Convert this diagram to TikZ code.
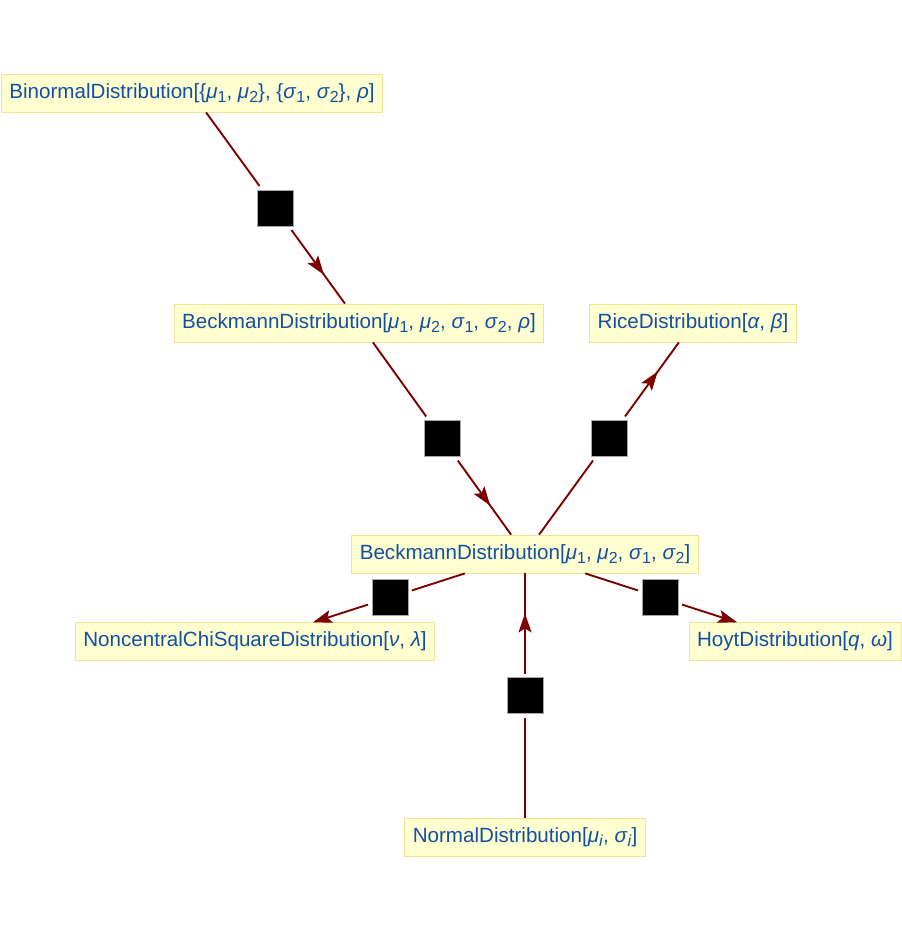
\documentclass[tikz,border=0pt]{standalone}
\usepackage{fontspec}
\setmainfont{Liberation Sans}
\usetikzlibrary{arrows.meta}
\definecolor{edgered}{RGB}{125,0,0}
\definecolor{boxfill}{RGB}{255,255,207}
\definecolor{boxline}{RGB}{238,228,150}
\definecolor{labelblue}{RGB}{18,80,168}
\newcommand\lo[1]{\raisebox{-0.45ex}{\fontsize{16}{16}\selectfont #1}}
\newcommand\gk[1]{\textit{#1}}
\tikzset{
  distbox/.style={draw=boxline, line width=0.8pt, fill=boxfill, text=labelblue,
    inner xsep=8pt, inner ysep=0pt, minimum height=38pt,
    font=\fontsize{20.6}{24}\selectfont},
  sqbox/.style={fill=black, draw=gray!70, line width=0.8pt, minimum size=36pt,
    inner sep=0pt, outer sep=4pt},
  edge/.style={draw=edgered, line width=1.9pt},
  arr/.style={draw=edgered, fill=edgered, line width=1.9pt,
    -{Stealth[length=19pt,width=13pt,inset=4pt]}}
}
\begin{document}
\begin{tikzpicture}[x=1pt,y=-1pt]
\useasboundingbox (0,0) rectangle (902,932);

\node[distbox] (bin) at (192,93) {BinormalDistribution[\{\gk{μ}\lo{1}, \gk{μ}\lo{2}\}, \{\gk{σ}\lo{1}, \gk{σ}\lo{2}\}, \gk{ρ}]};
\node[distbox] (bk5) at (359,323) {BeckmannDistribution[\gk{μ}\lo{1}, \gk{μ}\lo{2}, \gk{σ}\lo{1}, \gk{σ}\lo{2}, \gk{ρ}]};
\node[distbox] (rice) at (693,323) {RiceDistribution[\gk{α}, \gk{β}]};
\node[distbox] (bk4) at (525,554) {BeckmannDistribution[\gk{μ}\lo{1}, \gk{μ}\lo{2}, \gk{σ}\lo{1}, \gk{σ}\lo{2}]};
\node[distbox] (nchi) at (255,641) {NoncentralChiSquareDistribution[\gk{ν}, \gk{λ}]};
\node[distbox] (hoyt) at (795,641) {HoytDistribution[\gk{q}, \gk{ω}]};
\node[distbox] (norm) at (525,837) {NormalDistribution[\gk{μ}\lo{\gk{i}}, \gk{σ}\lo{\gk{i}}]};

\path (bin.center) -- (bk5.center) node[sqbox,pos=0.5] (s1) {}
  coordinate[pos=0.79] (t1) coordinate[pos=0.74] (u1);
\path (bk5.center) -- (bk4.center) node[sqbox,pos=0.5] (s2) {}
  coordinate[pos=0.79] (t2) coordinate[pos=0.74] (u2);
\path (bk4.center) -- (rice.center) node[sqbox,pos=0.5] (s3) {}
  coordinate[pos=0.79] (t3) coordinate[pos=0.74] (u3);
\path (bk4.center) -- (nchi.center) node[sqbox,pos=0.5] (s4) {}
  coordinate[pos=0.785] (t4) coordinate[pos=0.73] (u4);
\path (bk4.center) -- (hoyt.center) node[sqbox,pos=0.5] (s5) {}
  coordinate[pos=0.785] (t5) coordinate[pos=0.73] (u5);
\path (norm.center) -- (bk4.center) node[sqbox,pos=0.5] (s6) {}
  coordinate[pos=0.79] (t6) coordinate[pos=0.74] (u6);

\draw[edge] (bin) -- (s1); \draw[edge] (s1) -- (bk5);
\draw[edge] (bk5) -- (s2); \draw[edge] (s2) -- (bk4);
\draw[edge] (bk4) -- (s3); \draw[edge] (s3) -- (rice);
\draw[edge] (bk4) -- (s4); \draw[edge] (s4) -- (nchi);
\draw[edge] (bk4) -- (s5); \draw[edge] (s5) -- (hoyt);
\draw[edge] (norm) -- (s6); \draw[edge] (s6) -- (bk4);

\draw[arr] (u1) -- (t1);
\draw[arr] (u2) -- (t2);
\draw[arr] (u3) -- (t3);
\draw[arr] (u4) -- (t4);
\draw[arr] (u5) -- (t5);
\draw[arr] (u6) -- (t6);
\end{tikzpicture}
\end{document}
